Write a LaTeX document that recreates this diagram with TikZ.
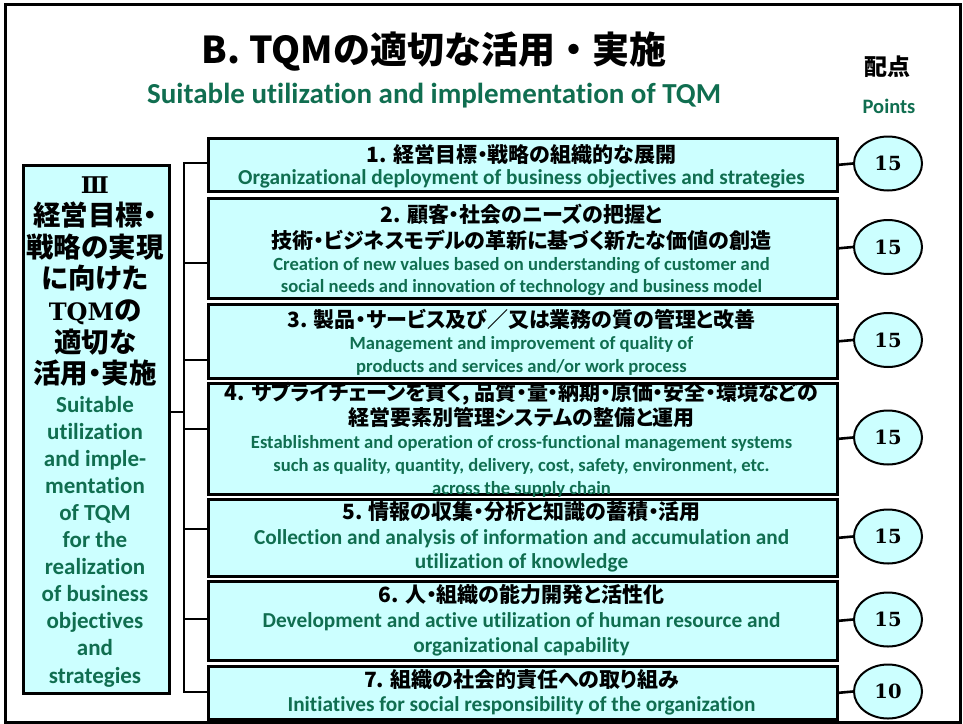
\documentclass[tikz,border=0pt]{standalone}
\usepackage{fontspec}
\setmainfont{Carlito}[Ligatures=NoCommon]
\newfontfamily\jp{Noto Sans CJK JP}
\newfontfamily\jpp{Noto Sans CJK JP}[RawFeature=+palt]
\newfontfamily\en{Carlito}[Ligatures=NoCommon]
\newfontfamily\sr{DejaVu Serif}
\usetikzlibrary{shapes.geometric}
\definecolor{fillc}{HTML}{CCFFFF}
\definecolor{engreen}{HTML}{106E50}
\begin{document}
\begin{tikzpicture}[x=1pt,y=-1pt,
  box/.style={draw=black, line width=2.6pt, fill=fillc, inner sep=0pt, anchor=north west, minimum width=629pt},
  oval/.style={ellipse, draw=black, line width=2pt, fill=fillc, minimum width=68pt, minimum height=54pt, inner sep=0pt, font=\sr\bfseries\fontsize{19.5}{19.5}\selectfont},
  conn/.style={line width=2.6pt, draw=black},
  tsh/.style={yshift=-4.5pt},
  jpt/.style={tsh, inner sep=0pt, font=\jpp\bfseries\fontsize{21}{21}\selectfont, text height=0.8em, text depth=0.15em},
  ent/.style={tsh, inner sep=0pt, text=engreen, font=\en\bfseries\fontsize{21.3}{21.3}\selectfont, text height=0.7em, text depth=0.2em},
  ens/.style={ent, font=\en\bfseries\fontsize{18.6}{18.6}\selectfont},
  ljp/.style={tsh, inner sep=0pt, font=\jpp\bfseries\fontsize{27.5}{27.5}\selectfont, text height=0.8em, text depth=0.15em},
  len/.style={tsh, inner sep=0pt, text=engreen, font=\en\bfseries\fontsize{23}{23}\selectfont, text height=0.7em, text depth=0.2em}
]
\useasboundingbox (0,0) rectangle (963,723);
\node[draw=black, line width=2.6pt, minimum width=955pt, minimum height=718pt, anchor=north west, inner sep=0pt] (frame) at (4,3) {};

% title
\node[inner sep=0pt, font=\jp\bfseries\fontsize{37}{37}\selectfont] (title) at (434,52) {B. TQMの適切な活用・実施};
\node[inner sep=0pt, text=engreen, font=\en\bfseries\fontsize{29}{29}\selectfont] (subtitle) at (434,96) {Suitable utilization and implementation of TQM};
\node[inner sep=0pt, font=\jp\bfseries\fontsize{23}{23}\selectfont] (haiten) at (887,67) {配点};
\node[ent, font=\en\bfseries\fontsize{20.5}{20.5}\selectfont] (points) at (889,106) {Points};

% left box
\node[draw=black, line width=2.6pt, fill=fillc, anchor=north west, minimum width=146pt, minimum height=528pt, inner sep=0pt] (L) at (22,164) {};
\node[tsh, inner sep=0pt, font=\sr\bfseries\fontsize{23}{23}\selectfont, text height=0.75em, text depth=0.1em] (l0) at (95,186) {Ⅲ};
\node[ljp] (l1) at (95,217.7) {経営目標・};
\node[ljp] (l2) at (95,249.3) {戦略の実現};
\node[ljp] (l3) at (95,281) {に向けた};
\node[ljp] (l4) at (95,312.7) {{\sr\bfseries\fontsize{24}{24}\selectfont TQM}の};
\node[ljp] (l5) at (95,344.3) {適切な};
\node[ljp] (l6) at (95,376) {活用・実施};
\foreach \t [count=\i] in {Suitable, utilization, and imple-, mentation, of TQM, for the, realization, of business, objectives, and, strategies}
  \node[len] (le\i) at (95, 405+27.1*\i-27.1) {\t};

% boxes
\node[box, minimum height=53pt] (b1) at (207,137) {};
\node[box, minimum height=100pt] (b2) at (207,197) {};
\node[box, minimum height=74pt] (b3) at (207,303) {};
\node[box, minimum height=111pt] (b4) at (207,382) {};
\node[box, minimum height=77pt] (b5) at (207,498) {};
\node[box, minimum height=79pt] (b6) at (207,580) {};
\node[box, minimum height=53pt] (b7) at (207,665) {};

% box texts
\node[jpt] (t1a) at (521.5,155) {1. 経営目標・戦略の組織的な展開};
\node[ent] (t1b) at (521.5,177) {Organizational deployment of business objectives and strategies};

\node[jpt] (t2a) at (521.5,215) {2. 顧客・社会のニーズの把握と};
\node[jpt] (t2b) at (521.5,241) {技術・ビジネスモデルの革新に基づく新たな価値の創造};
\node[ens] (t2c) at (521.5,263) {Creation of new values based on understanding of customer and};
\node[ens] (t2d) at (521.5,285) {social needs and innovation of technology and business model};

\node[jpt] (t3a) at (521.5,320) {3. 製品・サービス及び／又は業務の質の管理と改善};
\node[ens] (t3b) at (521.5,342) {Management and improvement of quality of};
\node[ens] (t3c) at (521.5,365) {products and services and/or work process};

\node[jpt] (t4a) at (521.5,393) {4. サプライチェーンを貫く, 品質・量・納期・原価・安全・環境などの};
\node[jpt] (t4b) at (521.5,418) {経営要素別管理システムの整備と運用};
\node[ens] (t4c) at (521.5,441) {Establishment and operation of cross-functional management systems};
\node[ens] (t4d) at (521.5,464) {such as quality, quantity, delivery, cost, safety, environment, etc.};
\node[ens] (t4e) at (521.5,487) {across the supply chain};

\node[jpt] (t5a) at (521.5,512) {5. 情報の収集・分析と知識の蓄積・活用};
\node[ent] (t5b) at (521.5,537) {Collection and analysis of information and accumulation and};
\node[ent] (t5c) at (521.5,561) {utilization of knowledge};

\node[jpt] (t6a) at (521.5,595) {6. 人・組織の能力開発と活性化};
\node[ent] (t6b) at (521.5,620) {Development and active utilization of human resource and};
\node[ent] (t6c) at (521.5,645) {organizational capability};

\node[jpt] (t7a) at (521.5,680) {7. 組織の社会的責任への取り組み};
\node[ent] (t7b) at (521.5,704) {Initiatives for social responsibility of the organization};

% ovals
\node[oval] (o1) at (888,163.5) {15};
\node[oval] (o2) at (888,247) {15};
\node[oval] (o3) at (888,340) {15};
\node[oval] (o4) at (888,437.5) {15};
\node[oval] (o5) at (888,536.5) {15};
\node[oval] (o6) at (888,619.5) {15};
\node[oval] (o7) at (888,691.5) {10};
\foreach \i in {1,...,7} \draw[conn] (b\i.east) -- (o\i.west);

% bracket connectors
\coordinate (j1) at (184,163);
\coordinate (j2) at (184,263);
\coordinate (j3) at (184,360);
\coordinate (j4) at (184,429);
\coordinate (j5) at (184,529);
\coordinate (j6) at (184,619);
\coordinate (j7) at (184,692);
\coordinate (jL) at (184,412);
\draw[conn, line cap=rect] (j1 -| b1.west) -- (j1) -- (j7) -- (j7 -| b7.west);
\foreach \i in {2,...,6} \draw[conn] (j\i) -- (j\i -| b\i.west);
\draw[conn] (jL -| L.east) -- (jL);
\end{tikzpicture}
\end{document}
